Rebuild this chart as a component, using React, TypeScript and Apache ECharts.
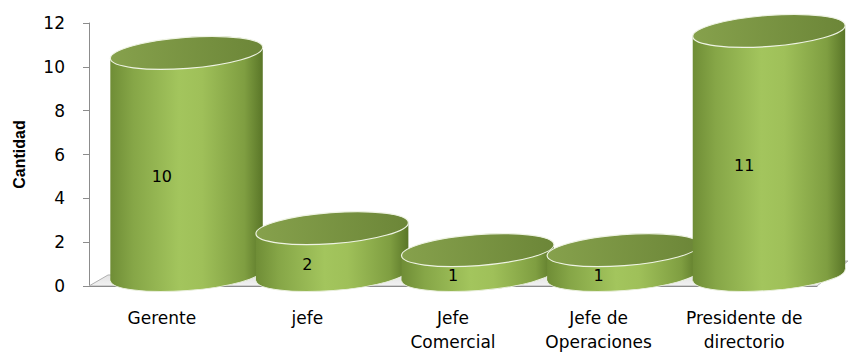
import React, { useEffect, useRef } from "react";
import * as echarts from "echarts";

const categories = ["Gerente", "jefe", "Jefe\nComercial", "Jefe de\nOperaciones", "Presidente de\ndirectorio"];
const values = [10, 2, 1, 1, 11];
const yTicks = { min: 0, max: 12, interval: 2 };
const yName = "Cantidad";

const bodyGradient = {
  type: "linear", x: 0, y: 0, x2: 1, y2: 0,
  colorStops: [
    { offset: 0, color: "#6f8d36" },
    { offset: 0.15, color: "#86a647" },
    { offset: 0.45, color: "#a3c55d" },
    { offset: 0.6, color: "#9fc059" },
    { offset: 0.88, color: "#7f9e41" },
    { offset: 1, color: "#5a7628" },
  ],
};
const topGradient = {
  type: "linear", x: 0, y: 0, x2: 1, y2: 0,
  colorStops: [
    { offset: 0, color: "#86a14c" },
    { offset: 1, color: "#6c8638" },
  ],
};

export default function App() {
  const ref = useRef<HTMLDivElement>(null);
  useEffect(() => {
    if (!ref.current) return;
    const chart = echarts.init(ref.current, null, { renderer: "svg" });
    const font = "DejaVu Sans";
    chart.setOption({
      animation: false,
      backgroundColor: "#ffffff",
      grid: { left: 89, right: 36, top: 23, bottom: 61 },
      xAxis: {
        type: "category",
        data: categories,
        axisLine: { show: true, lineStyle: { color: "#8c8c8c", width: 1 } },
        axisTick: { show: false },
        axisLabel: { fontFamily: font, fontSize: 17, color: "#000", margin: 20, lineHeight: 24, interval: 0 },
        z: 1,
      },
      yAxis: {
        type: "value",
        min: yTicks.min,
        max: yTicks.max,
        interval: yTicks.interval,
        name: yName,
        nameLocation: "middle",
        nameGap: 62,
        nameRotate: 90,
        nameTextStyle: { fontFamily: "Liberation Sans", fontWeight: "bold", fontSize: 16, color: "#000" },
        axisLine: { show: true, lineStyle: { color: "#8c8c8c", width: 1 } },
        axisTick: { show: true, length: 6, lineStyle: { color: "#8c8c8c" } },
        axisLabel: { fontFamily: font, fontSize: 17, color: "#000", margin: 24 },
        splitLine: { show: false },
      },
      series: [
        {
          type: "custom",
          data: [[0, 0]],
          z: 1,
          silent: true,
          renderItem: (params: any, api: any) => {
            const cs = params.coordSys;
            const bx = cs.x, by = cs.y + cs.height, w = cs.width;
            return {
              type: "polygon",
              shape: {
                points: [
                  [bx, by],
                  [bx + w, by],
                  [bx + w + 31, by - 25],
                  [bx + 19, by - 11],
                ],
              },
              style: {
                fill: { type: "linear", x: 0, y: 1, x2: 0, y2: 0, colorStops: [{ offset: 0, color: "#f2f2f2" }, { offset: 1, color: "#cfcfcf" }] },
                stroke: "#b0b0b0",
                lineWidth: 1,
              },
            };
          },
        },
        {
          type: "custom",
          data: values.map((v, i) => [i, v]),
          z: 2,
          renderItem: (params: any, api: any) => {
            const i = api.value(0);
            const v = api.value(1);
            const base = api.coord([i, 0]);
            const top = api.coord([i, v]);
            const mid = api.coord([i, v / 2]);
            const band = api.size([1, 0])[0];
            const cx = base[0] + band * 0.17;
            const rx = band * 0.525;
            const ry = 15.5;
            const yT = top[1] - 14;
            const yB = base[1] - 11;
            const th = 0.075;
            const s = Math.sin(th) * rx;
            const c = Math.cos(th) * rx;
            return {
              type: "group",
              children: [
                {
                  type: "ellipse",
                  x: cx, y: yB, rotation: th,
                  shape: { cx: 0, cy: 0, rx, ry },
                  style: { fill: bodyGradient as any, stroke: "#e9efdc", lineWidth: 1 },
                },
                {
                  type: "polygon",
                  shape: { points: [[cx - c, yT + s], [cx + c, yT - s], [cx + c, yB - s], [cx - c, yB + s]] },
                  style: { fill: bodyGradient as any },
                },
                {
                  type: "ellipse",
                  x: cx, y: yT, rotation: th,
                  shape: { cx: 0, cy: 0, rx, ry },
                  style: { fill: topGradient as any, stroke: "#eef3e3", lineWidth: 1.2 },
                },
                {
                  type: "text",
                  x: mid[0], y: mid[1],
                  style: {
                    text: String(v),
                    fontFamily: font,
                    fontSize: 16,
                    fill: "#000",
                    align: "center",
                    verticalAlign: "middle",
                  },
                },
              ],
            };
          },
        },
      ],
    });
    return () => chart.dispose();
  }, []);
  return <div ref={ref} style={{ position: "fixed", left: 0, top: 0, width: 853, height: 354 }} />;
}
